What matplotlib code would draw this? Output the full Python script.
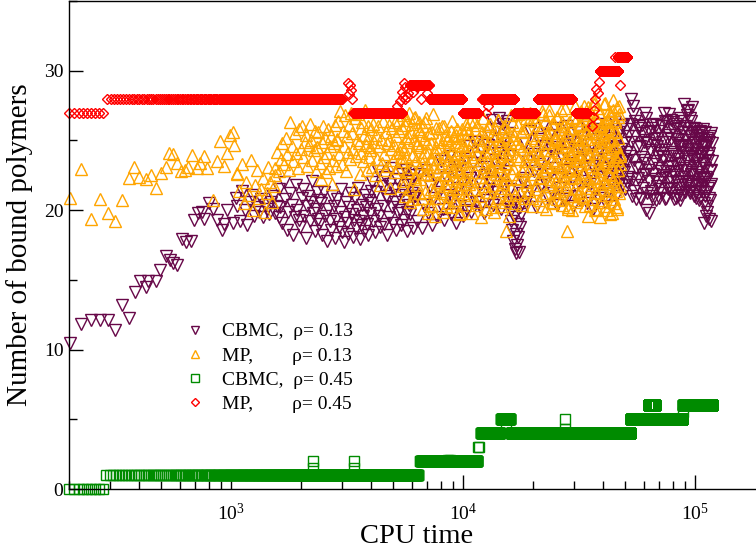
import numpy as np
import matplotlib
matplotlib.use("Agg")
import matplotlib.pyplot as plt
from matplotlib.ticker import LogLocator, LogFormatterMathtext, MultipleLocator, NullFormatter

plt.rcParams['font.family'] = ['Liberation Serif', 'DejaVu Serif']
plt.rcParams['mathtext.fontset'] = 'custom'
plt.rcParams['mathtext.rm'] = 'Liberation Serif'
plt.rcParams['mathtext.it'] = 'Liberation Serif:italic'
plt.rcParams['mathtext.bf'] = 'Liberation Serif:bold'

# --- dane ---
# CBMC, rho = 0.13 (trojkaty w dol)
cbmc13_early_x = [202, 225, 248, 271, 294, 317, 338, 361, 385, 405, 430, 436, 475, 495, 525, 546,
                  564, 587, 613, 639, 670, 693, 716, 748, 766, 799, 834, 868, 912, 927, 964, 1017, 1050]
cbmc13_early_y = [10.5, 11.8, 12.1, 12.1, 12.1, 11.4, 13.2, 12.3, 14.1, 14.9, 14.5, 14.9, 14.9, 15.7,
                  16.7, 16.4, 16.2, 16.1, 17.9, 17.7, 17.8, 19.3, 19.8, 19.9, 19.35, 20.5, 20.1, 19.3,
                  18.6, 19.0, 20.0, 19.1, 20.85]
# odcinki (od, do) i wartosci w kolejnych chwilach
cbmc13_spans = [(1060, 1600), (1600, 2400), (2400, 4000), (4000, 6200), (6200, 15900),
                (15900, 18100), (18100, 46000), (46000, 118000), (46000, 118000)]
cbmc13_seg_a = [20.3, 19.2, 21.4, 20.0, 18.9, 20.6, 21.1, 19.6, 20.2, 19.9, 20.8, 19.5, 20.4, 20.1,
                19.7, 20.6, 21.0, 19.8, 20.3, 19.5]
cbmc13_seg_b = [21.5, 20.2, 19.1, 22.0, 20.8, 18.6, 19.9, 21.2, 20.4, 18.2, 19.5, 21.8, 20.0, 19.3,
                18.8, 20.9, 21.5, 19.6, 18.0, 20.3, 21.0, 19.2, 20.6, 22.1, 19.8, 18.5, 20.1, 21.3,
                19.4, 20.7]
cbmc13_seg_c = [19.0, 20.5, 18.2, 21.3, 19.6, 17.8, 20.1, 19.2, 18.6, 21.0, 20.3, 18.0, 19.4, 20.8,
                18.8, 19.9, 21.5, 18.4, 17.7, 19.5, 20.6, 19.1, 18.3, 20.2, 21.2, 19.7, 18.1, 19.3,
                20.9, 18.7, 20.0, 21.6, 19.2, 17.9, 18.9, 20.4, 19.6, 18.5, 21.1, 20.2, 19.0, 18.2,
                20.7, 19.8, 21.4]
cbmc13_seg_d = [20.5, 22.0, 19.2, 18.4, 21.3, 20.1, 22.8, 19.6, 18.8, 21.7, 20.3, 19.0, 22.4, 21.0,
                18.2, 20.8, 19.5, 21.9, 23.0, 20.2, 19.1, 21.5, 20.6, 18.6, 22.2, 19.8, 21.1, 20.0,
                18.9, 22.6, 21.4, 19.3, 20.7, 22.9, 19.9, 18.5, 21.8, 20.4, 19.7, 22.1, 21.2, 18.7,
                20.9, 22.5, 21.0]
cbmc13_seg_e = [21.0, 19.2, 22.6, 18.7, 20.4, 22.9, 19.8, 21.7, 18.9, 20.9, 22.2, 19.5, 21.3,
                23.5, 20.1, 19.3, 22.4, 21.1, 23.9, 19.7, 20.8, 22.9, 19.1, 21.6, 23.2, 20.3, 22.0,
                19.6, 23.7, 21.4,
                20.0, 24.6, 22.3, 19.9, 23.4, 21.2, 24.9, 20.6, 22.7, 23.8, 20.2, 21.9, 24.3, 19.8,
                22.5, 23.1, 20.7, 24.7, 21.5,
                25.3, 22.1, 26.5, 20.4, 23.6, 25.8, 21.3, 24.1, 26.6, 22.6, 20.1, 25.0, 23.3, 26.2,
                21.8, 24.5, 22.8, 26.4, 20.6, 25.5, 23.9]
cbmc13_seg_f = [21.5, 20.0, 19.2, 18.6, 20.6, 17.8, 19.5, 17.2, 18.3, 16.9, 17.5, 19.0, 18.1, 17.0,
                20.2, 18.8, 19.7, 21.2, 20.5, 22.0]
cbmc13_seg_g = [22.3, 24.8, 20.6, 23.5, 25.7, 21.4, 24.0, 22.8, 20.2, 25.1, 23.3, 21.8, 24.6, 26.0,
                22.0, 23.9, 20.9, 25.4, 22.6, 24.3, 21.2, 23.0, 25.9, 20.4, 24.5, 22.4, 21.6, 25.2,
                23.7, 20.8, 24.1, 22.9, 26.0, 21.0, 23.4, 25.0, 22.2, 20.3, 24.9, 23.1, 21.7, 25.6,
                22.7, 24.4, 20.7, 23.6, 25.3, 21.3, 24.2, 22.1, 26.1, 20.5, 23.8, 22.5, 25.5, 21.9,
                24.7, 23.2, 20.1, 25.8, 22.8, 24.0, 21.5, 23.5, 26.2, 20.9, 24.3, 22.4, 25.1, 21.1,
                23.0, 24.8, 20.6, 25.7, 22.6, 23.7, 21.4, 26.0, 24.5, 22.0, 20.3, 25.2, 23.3, 21.8,
                24.6, 22.9, 26.3, 21.0, 23.9, 22.2]
cbmc13_seg_h = [24.0, 22.1, 25.6, 23.2, 21.8, 26.1, 22.7, 24.8, 23.5, 22.0, 25.3, 23.9,
                28.0, 21.0, 27.5, 23.6, 26.4, 20.8,
                24.5, 22.3, 26.0, 20.9, 23.8, 25.5, 21.6, 24.9, 22.6,
                27.0, 20.0, 25.7, 22.9, 19.8, 24.3,
                21.4, 25.9, 23.3, 20.8, 24.7, 22.2, 26.1, 21.7, 23.9, 25.2, 20.9, 24.1, 22.8, 26.0,
                21.2, 23.6,
                27.0, 22.5, 24.9, 20.9, 26.3, 23.1, 21.6, 25.4, 22.0,
                26.5, 21.5, 24.2, 22.7, 25.8, 20.8, 23.4, 26.2, 22.1, 24.8, 21.0, 25.1, 23.7, 20.7,
                26.6, 22.4, 24.5, 21.8, 25.6, 23.0,
                27.6, 21.3, 25.0, 22.9, 26.8, 21.9, 24.4, 27.2, 23.2, 21.4, 25.9, 22.6, 26.4, 23.8,
                21.7, 24.9,
                25.9, 21.0, 23.7, 24.8, 20.9, 22.5, 25.4, 21.8, 24.1, 23.0, 20.7, 25.7, 22.2, 24.5,
                21.4, 23.4, 25.1, 22.0,
                25.8, 19.1, 23.3, 21.0, 24.6, 19.6, 22.4, 25.2, 20.3, 23.9, 21.6, 24.9, 19.4, 22.8,
                20.7, 25.5, 21.9, 23.5]
cbmc13_seg_h2 = [22.6, 25.1, 21.9, 24.4, 26.0, 22.9, 23.7, 21.5, 25.8, 24.2, 22.4, 26.2,
                 24.9, 22.2, 26.9, 21.4, 25.3, 23.0,
                 21.8, 25.9, 23.1, 24.6, 20.8, 26.1, 22.5, 23.6, 25.0,
                 23.4, 26.6, 21.2, 24.8, 22.1, 25.6,
                 24.2, 21.0, 26.2, 22.6, 25.1, 23.5, 20.7, 24.6, 22.0, 25.7, 23.0, 21.5, 26.0, 22.3,
                 24.9, 23.8,
                 24.3, 20.8, 26.4, 22.8, 25.2, 21.5, 23.9, 26.9, 22.4,
                 23.2, 25.1, 21.2, 26.3, 24.0, 22.5, 25.4, 20.9, 23.9, 26.0, 22.8, 21.6, 24.7, 25.9,
                 23.3, 21.1, 24.2, 26.4, 22.0, 24.6,
                 22.4, 26.0, 24.1, 21.6, 27.1, 23.5, 25.5, 22.1, 24.7, 26.6, 21.2, 23.9, 25.3, 22.7,
                 27.4, 24.4,
                 23.2, 25.6, 22.0, 24.4, 21.3, 25.8, 23.6, 21.9, 24.9, 22.7, 25.2, 20.9, 23.9, 25.5,
                 22.4, 24.0, 21.6, 24.7,
                 22.3, 24.2, 20.5, 25.6, 23.0, 21.3, 24.5, 22.2, 19.9, 25.0, 23.6, 20.9, 24.1, 21.7,
                 25.3, 22.9, 19.2, 24.8]
cbmc13_segs = [cbmc13_seg_a, cbmc13_seg_b, cbmc13_seg_c, cbmc13_seg_d, cbmc13_seg_e,
               cbmc13_seg_f, cbmc13_seg_g, cbmc13_seg_h, cbmc13_seg_h2]

# MP, rho = 0.13 (trojkaty w gore)
mp13_early_x = [202, 225, 248, 271, 294, 317, 338, 361, 382, 402, 430, 450, 475, 497, 525, 542,
                564, 587, 607, 633, 654, 681, 711, 735, 766, 790, 834, 868, 897, 927, 958, 990,
                1017, 1030, 1058]
mp13_early_y = [20.9, 22.96, 19.35, 20.8, 19.8, 19.25, 20.7, 22.3, 23.1, 22.4, 22.2, 22.5, 21.6,
                22.65, 23.1, 24.1, 24.0, 23.4, 22.8, 22.9, 23.1, 23.96, 23.0, 23.4, 23.9, 23.0,
                20.7, 23.55, 24.99, 23.2, 24.1, 25.4, 25.6, 24.7, 22.65]
mp13_spans = [(1060, 1550), (1550, 2350), (2350, 2860), (2860, 3970), (3970, 5400),
              (5400, 7200), (7200, 10400), (10400, 15900), (15900, 32000), (32000, 47500),
              (5400, 10400), (10400, 47500)]
mp13_seg_a = [22.6, 21.4, 23.3, 20.5, 22.0, 21.1, 23.6, 20.0, 21.8, 22.9, 20.9, 21.5, 22.3, 19.9,
              21.2, 23.1, 22.0, 20.6, 21.7, 22.5]
mp13_seg_b = [23.0, 24.2, 22.8, 23.7, 24.8, 23.3, 25.2, 24.0, 22.9, 26.3, 24.6, 23.5, 25.5, 24.1,
              23.0, 25.8, 24.4, 26.0, 23.8, 24.9, 25.4, 23.2, 24.7, 26.2, 25.0, 23.6, 24.3, 25.7,
              22.8, 24.5]
mp13_seg_c = [24.5, 25.6, 23.4, 22.2, 24.9, 26.0, 23.8, 25.2, 22.7, 24.1, 25.8, 23.0, 24.6, 25.3,
              21.9, 23.6, 24.8, 26.1, 23.2, 25.0]
mp13_seg_d = [25.1, 26.4, 24.0, 27.1, 23.3, 25.7, 24.6, 26.8, 22.8, 25.3, 24.2, 26.1, 23.7, 27.0,
              25.5, 24.4, 21.5, 26.6, 23.9, 25.0, 26.9, 24.8, 22.6, 25.9, 24.1, 26.3, 23.5, 25.4,
              27.2, 24.7, 22.9, 26.0, 25.2, 23.8, 24.5]
mp13_seg_e = [24.3, 25.8, 23.1, 26.2, 24.9, 22.5, 25.4, 23.7, 26.0, 24.6, 21.8, 25.1, 23.4, 26.4,
              24.0, 22.9, 25.6, 24.8, 23.2, 26.1, 25.0, 21.6, 24.4, 25.9, 23.6, 24.7, 26.3, 22.7,
              25.3, 24.1, 23.0, 25.7, 26.5, 24.2, 23.8]
mp13_seg_f = [23.5, 25.9, 22.1, 26.8, 24.4, 21.0, 25.2, 23.8, 26.5, 22.7, 24.9, 27.0, 21.5, 25.6,
              23.1, 26.2, 24.0, 20.8, 25.0, 22.4, 26.7, 23.6, 24.7, 21.8, 25.8, 23.0, 26.3, 22.2,
              24.5, 25.4, 20.9, 23.9, 26.0, 22.6, 25.1, 24.2, 21.3, 26.6, 23.3, 24.8, 19.8, 22.9,
              25.5, 20.4, 23.7]
mp13_seg_g = [22.5, 24.8, 20.3, 25.6, 23.1, 21.4, 24.2, 19.6, 25.9, 22.8, 23.7, 20.9, 25.1, 22.0,
              24.5, 21.2, 26.0, 23.4, 19.9, 24.0, 22.6, 25.4, 21.7, 23.9, 20.5, 25.0, 22.3, 24.7,
              21.0, 23.2, 25.7, 20.2, 24.3, 22.9, 21.5, 25.3, 23.6, 20.7, 24.9, 22.1, 23.0, 25.8,
              21.3, 24.1, 19.7, 22.7, 25.2, 23.3, 21.9, 24.6, 20.4, 23.8, 25.5, 22.4, 21.1, 24.4,
              23.5, 20.8, 25.9, 22.2]
mp13_seg_h = [23.0, 25.5, 21.2, 24.3, 26.4, 22.1, 19.8, 24.9, 23.6, 21.5, 25.8, 22.7, 20.4, 24.0,
              26.1, 23.3, 21.0, 25.2, 22.4, 24.6, 19.5, 23.8, 26.6, 22.0, 25.0, 21.7, 24.2, 20.1,
              23.5, 25.7, 22.9, 21.3, 24.8, 26.2, 20.7, 23.1, 25.4, 22.3, 24.5, 21.8, 19.9, 25.9,
              23.7, 22.6, 24.1, 20.9, 26.5, 23.2, 21.4, 25.1, 22.8, 24.7, 20.3, 23.9, 25.6, 21.9,
              24.4, 22.5, 26.0, 20.6, 23.4, 25.3, 18.5, 22.2, 24.0, 21.1, 25.7, 23.6, 19.6, 24.9]
mp13_seg_i = [24.1, 21.6, 26.3, 23.0, 25.4, 20.5, 24.8, 22.3, 26.9, 23.7, 21.2, 25.6, 22.8, 24.4,
              27.0, 20.9, 23.5, 25.9, 22.0, 24.6, 26.5, 21.4, 23.9, 25.2, 20.3, 24.0, 26.7, 22.6,
              25.0, 21.8, 23.3, 26.1, 24.7, 20.7, 22.4, 25.7, 23.8, 27.1, 21.1, 24.3, 22.9, 26.4,
              20.1, 25.3, 23.1, 24.9, 21.7, 26.8, 22.2, 25.5, 23.6, 20.6, 24.5, 26.2, 22.7, 21.3,
              25.1, 23.4, 26.6, 20.8, 24.2, 22.5, 25.8, 21.9, 27.2, 23.2, 24.8, 20.4, 25.6, 22.1,
              26.0, 23.7, 21.5, 24.6, 18.5, 22.8, 25.4, 20.2, 26.3, 23.9, 21.0, 24.1, 25.9, 22.3,
              20.0, 26.7, 23.0, 24.4, 21.6, 25.2, 22.6, 26.5, 20.7, 23.5, 25.0, 21.2, 24.7, 26.1,
              22.4, 23.8]
mp13_seg_j = [23.6, 26.2, 21.0, 25.1, 22.7, 27.5, 20.3, 24.5, 26.8, 22.1, 25.6, 19.6, 23.9, 27.0,
              21.6, 24.8, 26.4, 20.8, 23.2, 25.9, 22.4, 27.8, 21.3, 24.1, 26.6, 20.1, 25.3, 23.0,
              27.3, 21.9, 24.6, 19.5, 26.0, 22.8, 25.5, 20.6, 23.7, 27.6, 22.0, 24.9, 26.3, 21.1,
              23.4, 25.8, 20.0, 24.2, 27.1, 22.5, 25.0, 21.4, 26.7, 23.1, 19.8, 24.4, 27.9, 22.2,
              25.7, 20.5, 23.8, 26.5, 21.7, 24.7, 27.4, 20.2, 25.2, 22.9, 26.9, 21.2, 24.0, 23.3]
mp13_seg_k = [24.6, 21.7, 26.1, 22.9, 25.3, 20.6, 23.9, 26.6, 22.2, 24.8, 21.2, 25.7, 23.4, 20.1,
              26.3, 22.6, 24.2, 25.5, 21.5, 23.7, 26.9, 20.9, 24.5, 22.0, 25.9, 23.1, 21.4, 24.9,
              26.0, 22.5, 20.3, 25.2, 23.6, 21.9, 24.0, 26.4, 22.8, 20.7, 25.4, 23.3, 21.6, 24.7,
              19.8, 22.3, 25.8, 23.9, 21.1, 24.3, 26.2, 22.7]
mp13_seg_l = [25.0, 21.9, 23.8, 26.3, 20.6, 24.7, 22.4, 25.6, 23.1, 21.3, 26.0, 24.2, 22.8, 20.2,
              25.3, 23.6, 26.5, 21.6, 24.9, 22.0, 25.9, 23.3, 20.8, 24.4, 26.8, 22.6, 25.1, 21.1,
              23.9, 26.1, 24.6, 22.2, 20.4, 25.7, 23.0, 26.6, 21.8, 24.1, 22.9, 27.0, 20.9, 25.4,
              23.5, 21.5, 26.4, 24.0, 22.3, 25.8, 23.7, 20.3, 26.9, 22.7, 24.8, 21.2, 25.5, 23.2,
              27.2, 21.9, 24.3, 26.2, 20.5, 23.4, 25.2, 22.1, 26.7, 24.5, 21.4, 25.0, 23.1, 20.7,
              26.3, 22.5, 24.9, 27.3, 21.7, 23.8, 25.6, 20.1, 24.2, 22.9, 25.9, 21.0, 24.0, 26.6,
              22.4, 27.5, 23.6, 20.6, 25.3, 22.0, 24.7, 26.0, 21.3, 23.3, 27.1, 24.5, 20.9, 25.8,
              22.6, 26.8, 23.9, 21.6, 25.1, 27.4, 22.2, 24.1, 20.4, 26.2, 23.4, 25.5, 21.8, 24.8,
              27.6, 22.8, 20.0, 25.7, 23.7, 26.5, 21.2, 24.4, 22.3, 27.0, 25.2, 20.7, 23.0, 26.1,
              24.6, 21.5, 25.4, 22.1, 27.7, 23.5, 20.3, 24.9, 26.4, 21.9, 23.8, 25.9, 22.6, 19.7,
              26.9, 24.2, 21.1, 25.0, 23.2, 27.2, 20.8, 24.5, 22.4, 26.3, 21.4, 25.6, 23.6, 20.1,
              26.7, 22.9, 24.0, 27.5, 21.7, 23.9]
mp13_segs = [mp13_seg_a, mp13_seg_b, mp13_seg_c, mp13_seg_d, mp13_seg_e, mp13_seg_f,
             mp13_seg_g, mp13_seg_h, mp13_seg_i, mp13_seg_j, mp13_seg_k, mp13_seg_l]

# rho = 0.45: stale poziomy (liczby calkowite) w przedzialach czasu, probkowanie co 10
SAMPLE_STEP = 10
cbmc45_level = [0, 1, 2, 4, 5, 4, 5, 6, 6]
cbmc45_start = [200, 290, 6530, 11950, 14600, 16100, 53000, 63000, 89000]
cbmc45_end = [280, 6390, 11500, 14400, 15900, 52500, 88000, 67000, 118000]
cbmc45_extra_x = [2260, 2260, 3390, 3390, 8600, 8800, 11600, 11750, 15300, 27400, 27400, 88400]
cbmc45_extra_y = [2.0, 1.5, 2.0, 1.5, 2.1, 2.1, 3.0, 3.0, 4.4, 5.0, 4.3, 5.5]

mp45_level = [27, 28, 27, 29, 28, 27, 28, 27, 28, 27, 30, 31]
mp45_start = [200, 292, 3360, 5900, 7200, 10000, 12100, 16700, 21000, 30700, 38800, 46500]
mp45_end = [283, 3010, 5460, 7100, 9900, 11600, 16600, 20500, 29500, 34300, 46500, 51000]
mp45_extra_x = [3200, 3260, 3300, 3230, 3320, 5200, 5350, 5500, 5450, 5600, 5550, 5630, 5800,
                5700, 6050, 6330, 6600, 6500, 7000, 12500, 12800, 12600, 35970, 36600, 36300,
                37080, 37500, 38100, 38500, 45200, 47200]
mp45_extra_y = [29.1, 29.0, 28.6, 28.3, 28.0, 27.5, 27.8, 28.1, 28.5, 28.8, 29.1, 28.0, 28.4,
                28.1, 28.5, 28.8, 28.0, 29.0, 28.4, 28.0, 27.5, 27.0, 26.0, 27.2, 26.7, 28.0,
                28.7, 28.4, 29.2, 31.0, 29.0]


def segments(early_x, early_y, spans, segs):
    xs = [np.asarray(early_x, float)]
    ys = [np.asarray(early_y, float)]
    for (a, b), vals in zip(spans, segs):
        xs.append(np.linspace(a, b, len(vals)))
        ys.append(np.asarray(vals, float))
    return np.concatenate(xs), np.concatenate(ys)


def runs(starts, ends, levels, extra_x, extra_y):
    xs, ys = [], []
    for s, e, lv in zip(starts, ends, levels):
        t = np.arange(s, e + 1, SAMPLE_STEP)
        xs.append(t)
        ys.append(np.full(len(t), float(lv)))
    xs.append(np.asarray(extra_x, float))
    ys.append(np.asarray(extra_y, float))
    return np.concatenate(xs), np.concatenate(ys)


x1, y1 = segments(cbmc13_early_x, cbmc13_early_y, cbmc13_spans, cbmc13_segs)
x2, y2 = segments(mp13_early_x, mp13_early_y, mp13_spans, mp13_segs)
x3, y3 = runs(cbmc45_start, cbmc45_end, cbmc45_level, cbmc45_extra_x, cbmc45_extra_y)
x4, y4 = runs(mp45_start, mp45_end, mp45_level, mp45_extra_x, mp45_extra_y)

fig = plt.figure(figsize=(7.56, 5.54), dpi=100)
ax = fig.add_axes([69 / 756, 1 - 489 / 554, 696 / 756, 488 / 554])

mew = 1.0
h1, = ax.plot(x1, y1, ls='none', marker='v', ms=8, mfc='none', mec='#670748', mew=mew, clip_on=False)
h2, = ax.plot(x2, y2, ls='none', marker='^', ms=8, mfc='none', mec='#ffa500', mew=mew, clip_on=False)
h3, = ax.plot(x3, y3, ls='none', marker='s', ms=7, mfc='none', mec='#008b00', mew=mew, clip_on=False)
h4, = ax.plot(x4, y4, ls='none', marker='D', ms=5.2, mfc='none', mec='#ff0000', mew=mew, clip_on=False)

ax.set_xscale('log')
ax.set_xlim(200, 2e5)
ax.set_ylim(0, 35)

ax.xaxis.set_major_locator(LogLocator(base=10))
ax.xaxis.set_major_formatter(LogFormatterMathtext())
ax.xaxis.set_minor_locator(LogLocator(base=10, subs=np.arange(2, 10)))
ax.xaxis.set_minor_formatter(NullFormatter())
ax.yaxis.set_major_locator(MultipleLocator(10))
ax.yaxis.set_minor_locator(MultipleLocator(5))

ax.tick_params(which='both', direction='in', top=False, right=False, width=1.0, labelsize=14)
ax.tick_params(which='major', length=10)
ax.tick_params(which='minor', length=5.8)
ax.tick_params(axis='y', pad=4)
ax.tick_params(axis='x', pad=10)
for sp in ax.spines.values():
    sp.set_linewidth(1.0)

ax.set_xlabel('CPU time', fontsize=20.5, labelpad=0)
ax.set_ylabel('Number of bound polymers', fontsize=21, labelpad=8)

labels = ['CBMC,  ρ= 0.13', 'MP,        ρ= 0.13', 'CBMC,  ρ= 0.45', 'MP,        ρ= 0.45']
ax.legend([h1, h2, h3, h4], labels, loc='upper left', bbox_to_anchor=(0.167, 0.3406),
          frameon=False, fontsize=14, handlelength=1.0, handletextpad=0.89, labelspacing=0.34,
          borderaxespad=0, borderpad=0, markerscale=0.8)

fig.savefig('out.png', dpi=100)
